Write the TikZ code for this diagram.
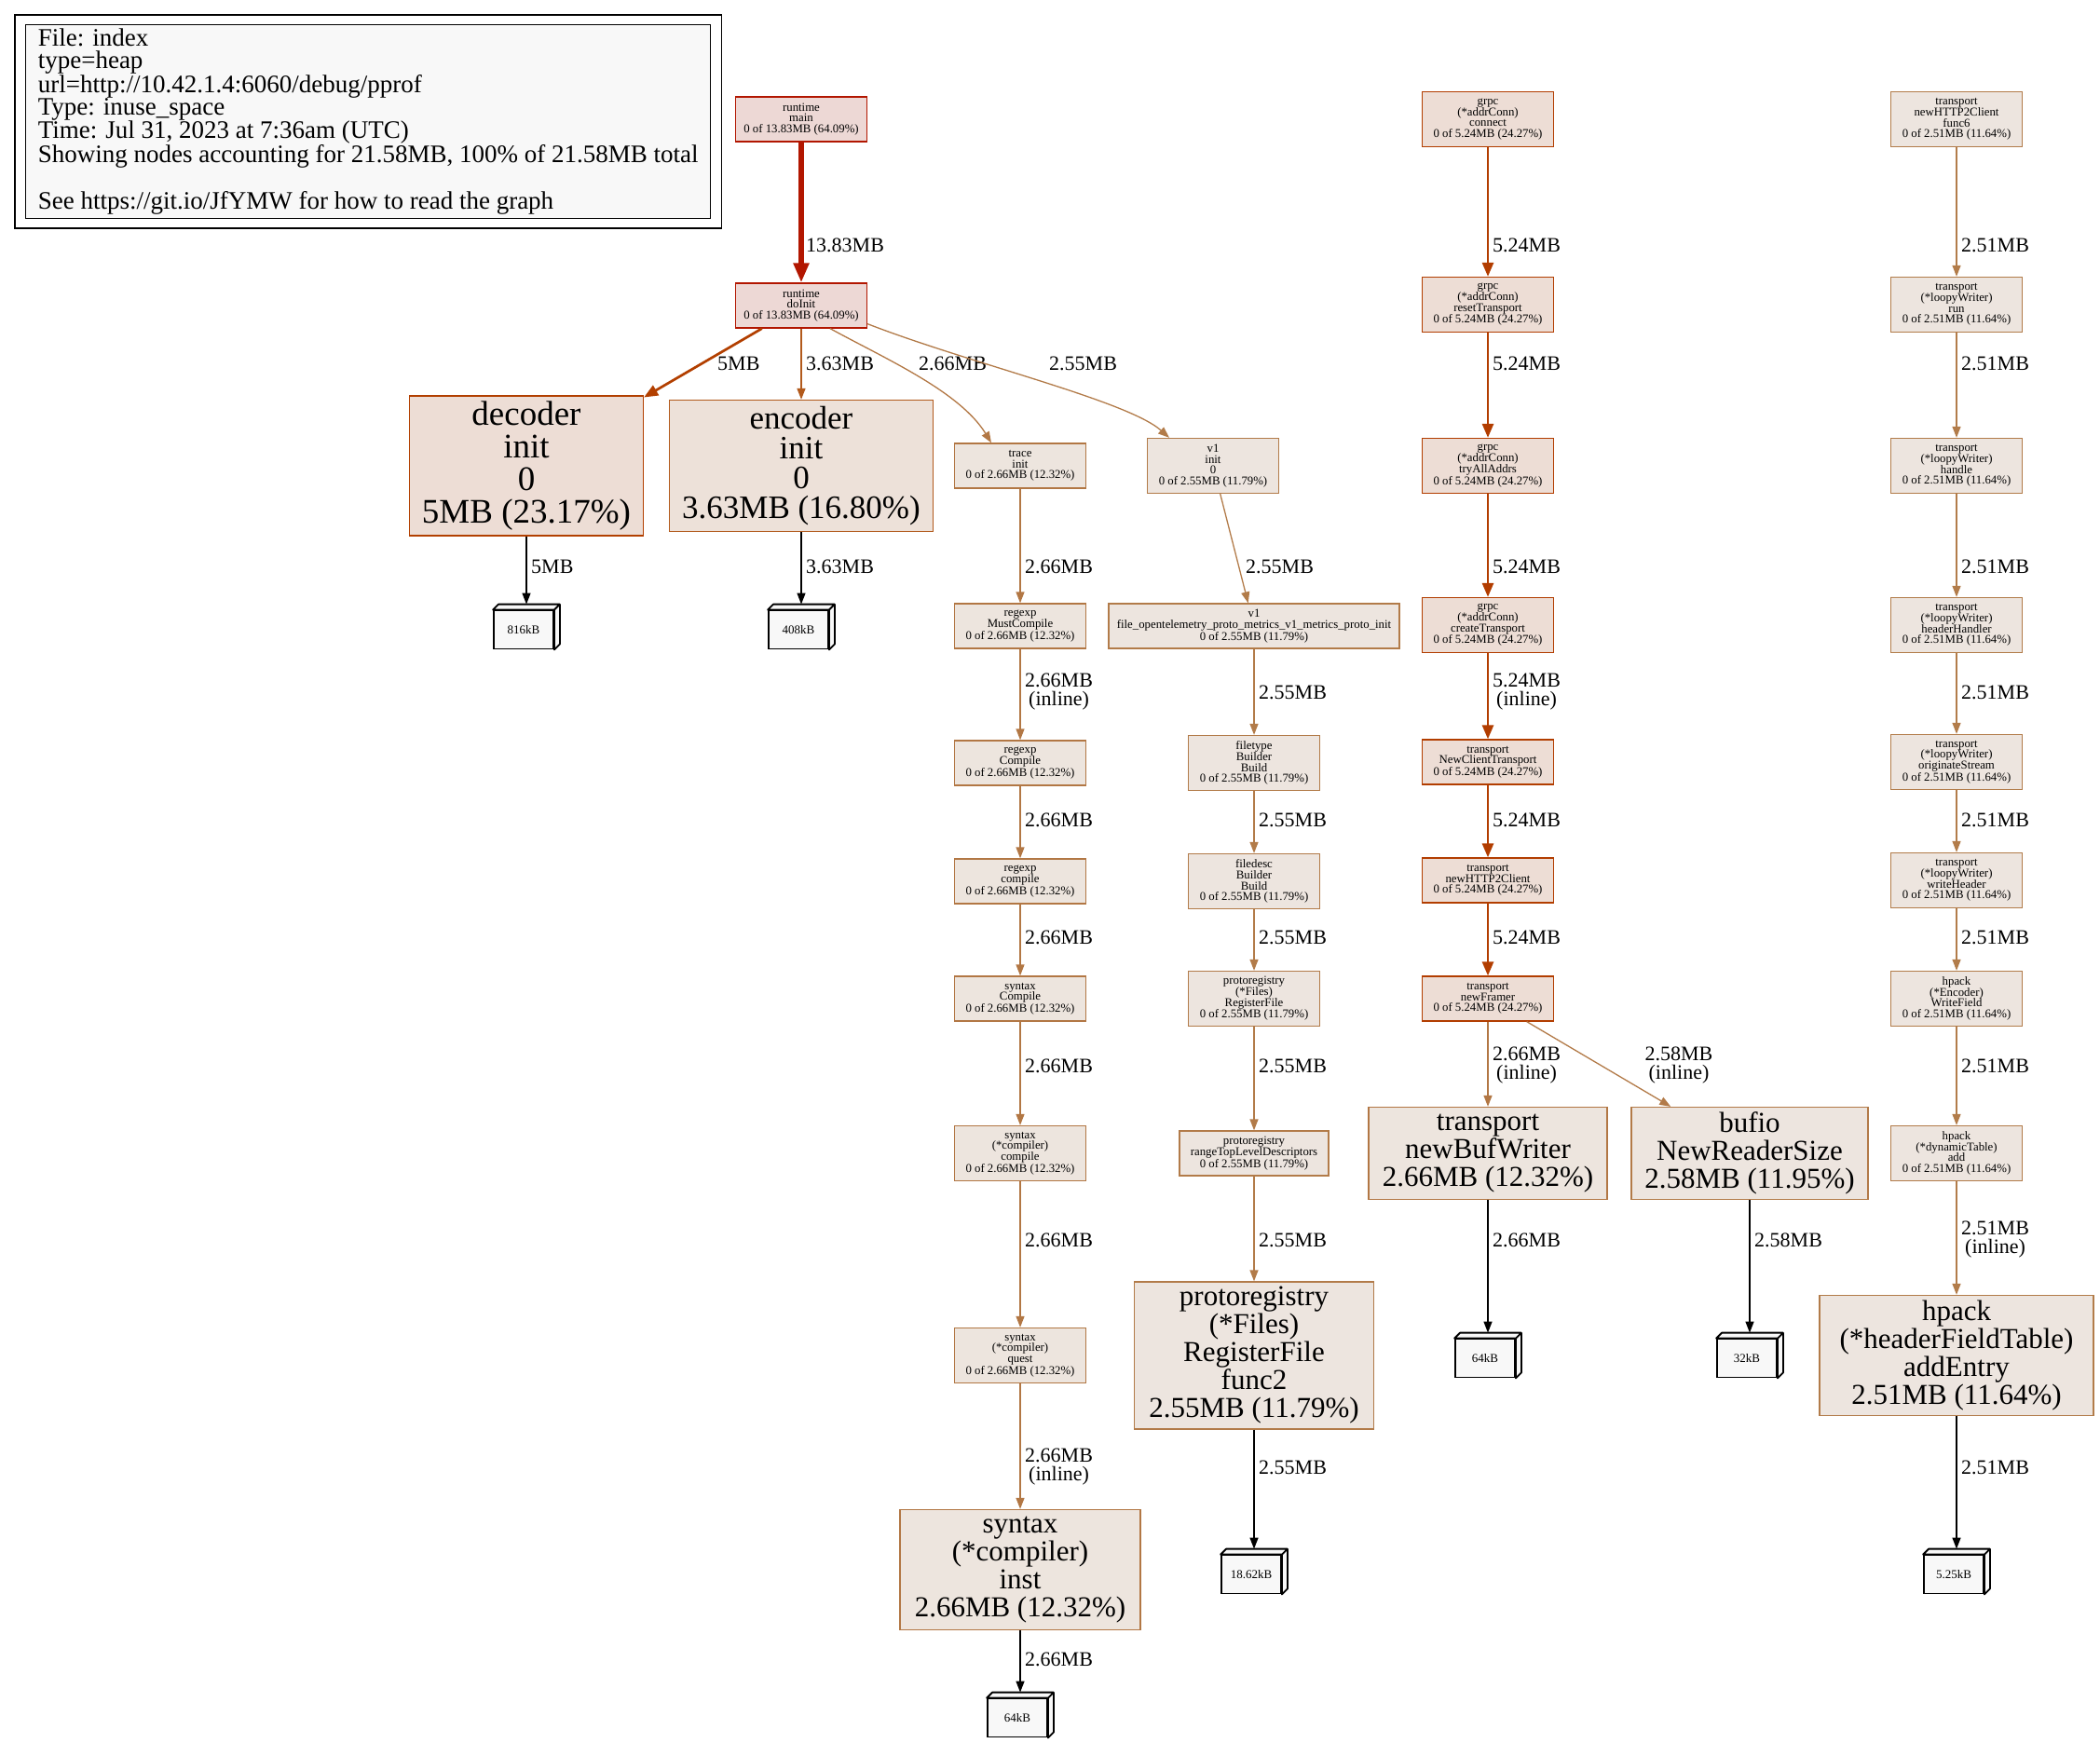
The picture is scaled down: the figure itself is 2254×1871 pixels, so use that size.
\documentclass[tikz,border=0pt]{standalone}
\usepackage{fontspec}
\setmainfont{Liberation Serif}
\usetikzlibrary{arrows.meta, positioning, calc}

\definecolor{rtdraw}{HTML}{B21600}
\definecolor{rtfill}{HTML}{EDD8D5}
\definecolor{grdraw}{HTML}{B23D00}
\definecolor{grfill}{HTML}{EDDDD5}
\definecolor{dcdraw}{HTML}{B23F00}
\definecolor{encdraw}{HTML}{B25A1C}
\definecolor{encfill}{HTML}{EDE1D9}
\definecolor{trdraw}{HTML}{B27744}
\definecolor{trfill}{HTML}{EDE5DE}
\definecolor{pbdraw}{HTML}{B27B49}
\definecolor{lwdraw}{HTML}{B27C4A}
\definecolor{bfdraw}{HTML}{B27A48}
\definecolor{lofill}{HTML}{EDE5DF}
\definecolor{kbfill}{HTML}{F8F8F8}

\begin{document}
\begin{tikzpicture}[
        x=1pt, y=-1pt,
        base/.style={rectangle, draw, align=center, line width=1.3pt, inner sep=2pt},
        fn/.style={base, minimum width=141pt, minimum height=48pt, font=\fontsize{12.8}{11.7}\selectfont},
        fnq/.style={fn, minimum height=59pt},
        big/.style={base, font=\fontsize{31}{30}\selectfont},
        kb/.style={base, draw=black, fill=kbfill, line width=1.8pt, minimum width=64pt, minimum height=41pt, inner sep=0pt, font=\fontsize{13}{13}\selectfont},
        kbface/.style={draw=black, fill=kbfill, line width=1.8pt, line join=round},
        legend/.style={rectangle, draw=black, fill=kbfill, line width=1.3pt, align=left, inner xsep=12pt, inner ysep=4pt, minimum width=735pt, minimum height=204pt, font=\fontsize{27}{24}\selectfont},
        rt/.style={draw=rtdraw, fill=rtfill},
        gr/.style={draw=grdraw, fill=grfill},
        dc/.style={draw=dcdraw, fill=grfill},
        enc/.style={draw=encdraw, fill=encfill},
        tr/.style={draw=trdraw, fill=trfill},
        pb/.style={draw=pbdraw, fill=lofill},
        lw/.style={draw=lwdraw, fill=lofill},
        bf/.style={draw=bfdraw, fill=lofill},
        conn/.style={-{Triangle[length=12pt, width=9pt]}, line width=1.3pt},
        connM/.style={-{Triangle[length=15pt, width=12pt]}, line width=2.7pt},
        connL/.style={-{Triangle[length=21pt, width=16pt]}, line width=5.5pt},
        elbl/.style={font=\fontsize{22}{20}\selectfont, align=center, anchor=west, inner sep=1pt, xshift=4pt}
    ]
        \useasboundingbox (0,0) rectangle (2254,1871);

        % legend
        \node[legend, anchor=north west] (legend) at (27,26) {File: index\\type=heap\\url=http://10.42.1.4:6060/debug/pprof\\Type: inuse\_space\\Time: Jul 31, 2023 at 7:36am (UTC)\\Showing nodes accounting for 21.58MB, 100\% of 21.58MB total\\[24pt]See https://git.io/JfYMW for how to read the graph};
        \draw[line width=1.3pt] ([shift={(-11pt,10pt)}]legend.north west) rectangle ([shift={(11pt,-10pt)}]legend.south east);

        % runtime
        \node[fn, rt] (rtMain) at (860,128) {runtime\\main\\0 of 13.83MB (64.09\%)};
        \node[fn, rt] (rtInit) at (860,328) {runtime\\doInit\\0 of 13.83MB (64.09\%)};
        \node[big, dc, font=\fontsize{37}{35}\selectfont, minimum width=251pt, minimum height=150pt] (decoder) at (565,500) {decoder\\init\\0\\5MB (23.17\%)};
        \node[big, enc, font=\fontsize{35}{32}\selectfont, minimum width=283pt, minimum height=141pt] (encoder) at (860,500) {encoder\\init\\0\\3.63MB (16.80\%)};

        % regexp / syntax
        \node[fn, tr] (trInit) at (1095,500) {trace\\init\\0 of 2.66MB (12.32\%)};
        \node[fn, tr] (reMust) at (1095,672) {regexp\\MustCompile\\0 of 2.66MB (12.32\%)};
        \node[fn, tr] (reComp) at (1095,819) {regexp\\Compile\\0 of 2.66MB (12.32\%)};
        \node[fn, tr] (reCompl) at (1095,946) {regexp\\compile\\0 of 2.66MB (12.32\%)};
        \node[fn, tr] (snComp) at (1095,1072) {syntax\\Compile\\0 of 2.66MB (12.32\%)};
        \node[fnq, tr] (snCompl) at (1095,1238) {syntax\\(*compiler)\\compile\\0 of 2.66MB (12.32\%)};
        \node[fnq, tr] (snQuest) at (1095,1455) {syntax\\(*compiler)\\quest\\0 of 2.66MB (12.32\%)};
        \node[big, tr, minimum width=258pt, minimum height=129pt] (snInst) at (1095,1685) {syntax\\(*compiler)\\inst\\2.66MB (12.32\%)};

        % v1 / protoregistry
        \node[fnq, pb] (vInit) at (1302,500) {v1\\init\\0\\0 of 2.55MB (11.79\%)};
        \node[fn, pb, minimum width=312pt] (vFile) at (1346,672) {v1\\file\_opentelemetry\_proto\_metrics\_v1\_metrics\_proto\_init\\0 of 2.55MB (11.79\%)};
        \node[fnq, pb] (ftBuild) at (1346,819) {filetype\\Builder\\Build\\0 of 2.55MB (11.79\%)};
        \node[fnq, pb] (fdBuild) at (1346,946) {filedesc\\Builder\\Build\\0 of 2.55MB (11.79\%)};
        \node[fnq, pb] (prReg) at (1346,1072) {protoregistry\\(*Files)\\RegisterFile\\0 of 2.55MB (11.79\%)};
        \node[fn, pb, minimum width=160pt] (prRange) at (1346,1238) {protoregistry\\rangeTopLevelDescriptors\\0 of 2.55MB (11.79\%)};
        \node[big, pb, minimum width=257pt, minimum height=158pt] (prFunc) at (1346,1455) {protoregistry\\(*Files)\\RegisterFile\\func2\\2.55MB (11.79\%)};

        % grpc / transport
        \node[fnq, gr] (acConn) at (1597,128) {grpc\\(*addrConn)\\connect\\0 of 5.24MB (24.27\%)};
        \node[fnq, gr] (acReset) at (1597,327) {grpc\\(*addrConn)\\resetTransport\\0 of 5.24MB (24.27\%)};
        \node[fnq, gr] (acTry) at (1597,500) {grpc\\(*addrConn)\\tryAllAddrs\\0 of 5.24MB (24.27\%)};
        \node[fnq, gr] (acCreate) at (1597,671) {grpc\\(*addrConn)\\createTransport\\0 of 5.24MB (24.27\%)};
        \node[fn, gr] (tpNewCT) at (1597,818) {transport\\NewClientTransport\\0 of 5.24MB (24.27\%)};
        \node[fn, gr] (tpH2C) at (1597,945) {transport\\newHTTP2Client\\0 of 5.24MB (24.27\%)};
        \node[fn, gr] (tpFramer) at (1597,1072) {transport\\newFramer\\0 of 5.24MB (24.27\%)};
        \node[big, tr, minimum width=256pt, minimum height=99pt] (tpBufW) at (1597,1238) {transport\\newBufWriter\\2.66MB (12.32\%)};
        \node[big, bf, minimum width=254pt, minimum height=99pt] (bfReader) at (1878,1238) {bufio\\NewReaderSize\\2.58MB (11.95\%)};

        % loopyWriter / hpack
        \node[fnq, lw] (lwFunc) at (2100,128) {transport\\newHTTP2Client\\func6\\0 of 2.51MB (11.64\%)};
        \node[fnq, lw] (lwRun) at (2100,327) {transport\\(*loopyWriter)\\run\\0 of 2.51MB (11.64\%)};
        \node[fnq, lw] (lwHandle) at (2100,500) {transport\\(*loopyWriter)\\handle\\0 of 2.51MB (11.64\%)};
        \node[fnq, lw] (lwHeader) at (2100,671) {transport\\(*loopyWriter)\\headerHandler\\0 of 2.51MB (11.64\%)};
        \node[fnq, lw] (lwOrig) at (2100,818) {transport\\(*loopyWriter)\\originateStream\\0 of 2.51MB (11.64\%)};
        \node[fnq, lw] (lwWrite) at (2100,945) {transport\\(*loopyWriter)\\writeHeader\\0 of 2.51MB (11.64\%)};
        \node[fnq, lw] (hpWrite) at (2100,1072) {hpack\\(*Encoder)\\WriteField\\0 of 2.51MB (11.64\%)};
        \node[fnq, lw] (hpAdd) at (2100,1238) {hpack\\(*dynamicTable)\\add\\0 of 2.51MB (11.64\%)};
        \node[big, lw, minimum width=294pt, minimum height=129pt] (hpEntry) at (2100,1455) {hpack\\(*headerFieldTable)\\addEntry\\2.51MB (11.64\%)};

        % allocation boxes
        \node[kb] (kbDec) at (562,676) {816kB};
        \node[kb] (kbEnc) at (857,676) {408kB};
        \node[kb] (kbInst) at (1092,1844) {64kB};
        \node[kb] (kbFunc) at (1343,1690) {18.62kB};
        \node[kb] (kbBuf) at (1594,1458) {64kB};
        \node[kb] (kbRead) at (1875,1458) {32kB};
        \node[kb] (kbEntry) at (2097,1690) {5.25kB};

        % edges from doInit
        \draw[connL, draw=rtdraw] (rtMain) -- (rtInit);
        \node[elbl] (lrtInit) at (rtInit |- 0,263) {13.83MB};
        \draw[connM, draw=dcdraw] (rtInit) -- (decoder);
        \node[elbl] (ldecoder) at (765,390) {5MB};
        \draw[conn, line width=1.6pt, draw=encdraw] (rtInit) -- (encoder);
        \node[elbl] (lencoder) at (encoder |- 0,390) {3.63MB};
        \draw[conn, draw=trdraw] ([xshift=31pt]rtInit.south) .. controls (950,385) and (1030,420) .. ([xshift=-31pt]trInit.north);
        \node[elbl] (ltrInit) at (981,390) {2.66MB};
        \draw[conn, draw=pbdraw] ([yshift=5pt]rtInit.south east) .. controls (1040,390) and (1210,430) .. ([xshift=-47pt]vInit.north);
        \node[elbl] (lvInit) at (1121,390) {2.55MB};

        % regexp column
        \foreach \a/\b/\ly/\t in {trInit/reMust/608/2.66MB, reMust/reComp/743/{2.66MB\\(inline)}, reComp/reCompl/880/2.66MB, reCompl/snComp/1006/2.66MB, snComp/snCompl/1144/2.66MB, snCompl/snQuest/1331/2.66MB, snQuest/snInst/1575/{2.66MB\\(inline)}}{
            \draw[conn, draw=trdraw] (\a) -- (\b);
            \node[elbl] (l\b) at (\a |- 0,\ly) {\t};
        }

        % protoregistry column
        \draw[conn, draw=pbdraw] (vInit) -- (vFile);
        \node[elbl] (lvFile) at (1332,608) {2.55MB};
        \foreach \a/\b/\ly in {vFile/ftBuild/743, ftBuild/fdBuild/880, fdBuild/prReg/1006, prReg/prRange/1144, prRange/prFunc/1331}{
            \draw[conn, draw=pbdraw] (\a) -- (\b);
            \node[elbl] (l\b) at (\a |- 0,\ly) {2.55MB};
        }

        % grpc column
        \foreach \a/\b/\ly/\t in {acConn/acReset/263/5.24MB, acReset/acTry/390/5.24MB, acTry/acCreate/608/5.24MB, acCreate/tpNewCT/743/{5.24MB\\(inline)}, tpNewCT/tpH2C/880/5.24MB, tpH2C/tpFramer/1006/5.24MB}{
            \draw[connM, draw=grdraw] (\a) -- (\b);
            \node[elbl] (l\b) at (\a |- 0,\ly) {\t};
        }
        \draw[conn, draw=trdraw] (tpFramer) -- (tpBufW);
        \node[elbl] (ltpBufW) at (tpFramer |- 0,1144) {2.66MB\\(inline)};
        \draw[conn, draw=bfdraw] (tpFramer) -- (bfReader);
        \node[elbl, anchor=center, xshift=0pt] (lbfReader) at (1798,1144) {2.58MB\\(inline)};

        % loopyWriter column
        \foreach \a/\b/\ly/\t in {lwFunc/lwRun/263/2.51MB, lwRun/lwHandle/390/2.51MB, lwHandle/lwHeader/608/2.51MB, lwHeader/lwOrig/743/2.51MB, lwOrig/lwWrite/880/2.51MB, lwWrite/hpWrite/1006/2.51MB, hpWrite/hpAdd/1144/2.51MB, hpAdd/hpEntry/1331/{2.51MB\\(inline)}}{
            \draw[conn, draw=lwdraw] (\a) -- (\b);
            \node[elbl] (l\b) at (\a |- 0,\ly) {\t};
        }

        % into the allocation boxes
        \foreach \a/\b/\ly/\t in {decoder/kbDec/608/5MB, encoder/kbEnc/608/3.63MB, snInst/kbInst/1781/2.66MB, prFunc/kbFunc/1575/2.55MB, tpBufW/kbBuf/1331/2.66MB, bfReader/kbRead/1331/2.58MB, hpEntry/kbEntry/1575/2.51MB}{
            \draw[conn, draw=black] (\a) -- ([xshift=3pt, yshift=6pt]\b.north);
            \node[elbl] (l\b) at (\a |- 0,\ly) {\t};
            \draw[kbface] (\b.north west) -- ++(6pt,6pt) -- ([shift={(6pt,6pt)}]\b.north east) -- ([shift={(6pt,6pt)}]\b.south east) -- (\b.south east) -- (\b.north east) -- cycle (\b.north east) -- ++(6pt,6pt);
        }
    \end{tikzpicture}
\end{document}
